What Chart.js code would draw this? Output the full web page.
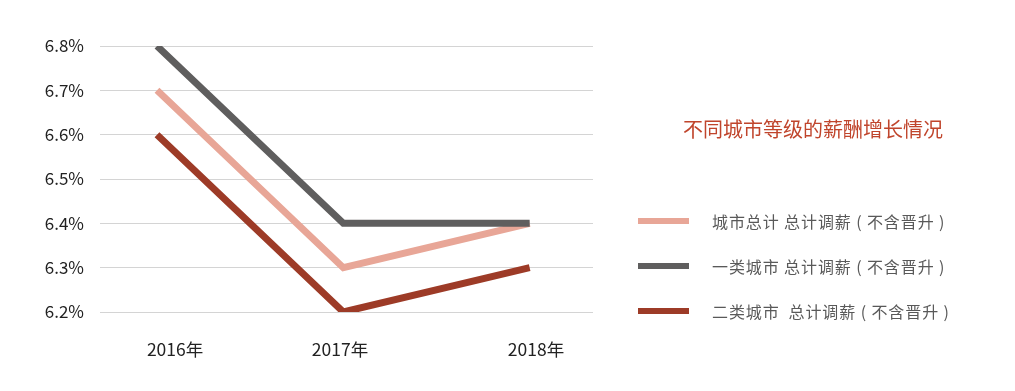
<!DOCTYPE html>
<html>
<head>
<meta charset="utf-8">
<script src="https://cdn.jsdelivr.net/npm/chart.js@4.4.0/dist/chart.umd.min.js"></script>
<style>
    body { margin: 0; background: #fff; font-family: "Noto Sans CJK SC", sans-serif; }
    #wrap { position: relative; width: 1015px; height: 391px; }
    #title { position: absolute; left: 683px; top: 114px; font-size: 20px; color: #c0452c; white-space: nowrap; }
    .item { position: absolute; left: 638px; height: 24px; }
    .item .swatch { position: absolute; left: 0; top: 9px; width: 51px; height: 6px; }
    .item .text { position: absolute; left: 74px; top: 0; font-size: 16px; line-height: 24px; letter-spacing: 0.9px; color: #595959; white-space: pre; }
</style>
</head>
<body>
<div id="wrap">
    <canvas id="salaryChart" width="1015" height="391"></canvas>
    <div id="title">不同城市等级的薪酬增长情况</div>
    <div id="legend"></div>
</div>
<script>
// Data
const years = ['2016年', '2017年', '2018年'];
const cityTotal = [6.7, 6.3, 6.4];
const tier1 = [6.8, 6.4, 6.4];
const tier2 = [6.6, 6.2, 6.3];
const seriesNames = ['城市总计 总计调薪 ( 不含晋升 )', '一类城市 总计调薪 ( 不含晋升 )', '二类城市  总计调薪 ( 不含晋升 )'];
const colors = ['#e8a697', '#5f5e5e', '#9d3b27'];
// where the year labels sit, relative to the data points (as in the source image)
const labelOffsets = [0.097, -0.018, 0.034];

function toPoints(values) {
    return values.map((v, i) => ({ x: i, y: v }));
}

const datasets = [cityTotal, tier1, tier2].map((values, i) => ({
    label: seriesNames[i],
    data: toPoints(values),
    borderColor: colors[i],
    backgroundColor: colors[i],
    borderWidth: 7,
    borderCapStyle: 'butt',
    borderJoinStyle: 'miter',
    pointRadius: 0,
    tension: 0,
    fill: false
}));

// Draw order: pink first, then dark red, gray on top
datasets[0].order = 3;
datasets[2].order = 2;
datasets[1].order = 1;

const ctx = document.getElementById('salaryChart').getContext('2d');
new Chart(ctx, {
    type: 'line',
    data: { datasets: datasets },
    options: {
        responsive: false,
        animation: false,
        layout: {
            padding: { top: 46, right: 422, left: 0, bottom: 0 }
        },
        scales: {
            x: {
                type: 'linear',
                min: -0.306,
                max: 2.34,
                afterBuildTicks: function(scale) {
                    scale.ticks = years.map((y, i) => ({ value: i + labelOffsets[i] }));
                },
                afterFit: function(scale) {
                    scale.height = 79;
                },
                grid: { display: false },
                border: { display: false },
                ticks: {
                    padding: 19,
                    color: '#222',
                    font: { family: '"Noto Sans CJK SC", sans-serif', size: 17.5 },
                    callback: function(value) {
                        return years[Math.round(value)];
                    }
                }
            },
            y: {
                min: 6.2,
                max: 6.8,
                afterFit: function(scale) {
                    scale.width = 100;
                },
                grid: { color: '#d4d4d4', lineWidth: 1, drawTicks: false },
                border: { display: false },
                ticks: {
                    stepSize: 0.1,
                    padding: 16,
                    color: '#222',
                    font: { family: '"Noto Sans CJK SC", sans-serif', size: 17 },
                    callback: function(value) {
                        return value.toFixed(1) + '%';
                    }
                }
            }
        },
        plugins: {
            legend: { display: false },
            tooltip: { enabled: false }
        }
    }
});

// HTML legend built from the datasets
const legendTops = [209, 254, 299];
const legend = document.getElementById('legend');
datasets.forEach((ds, i) => {
    const item = document.createElement('div');
    item.className = 'item';
    item.style.top = legendTops[i] + 'px';
    item.innerHTML = '<div class="swatch" style="background:' + ds.borderColor + '"></div>' +
        '<div class="text">' + ds.label + '</div>';
    legend.appendChild(item);
});
</script>
</body>
</html>
